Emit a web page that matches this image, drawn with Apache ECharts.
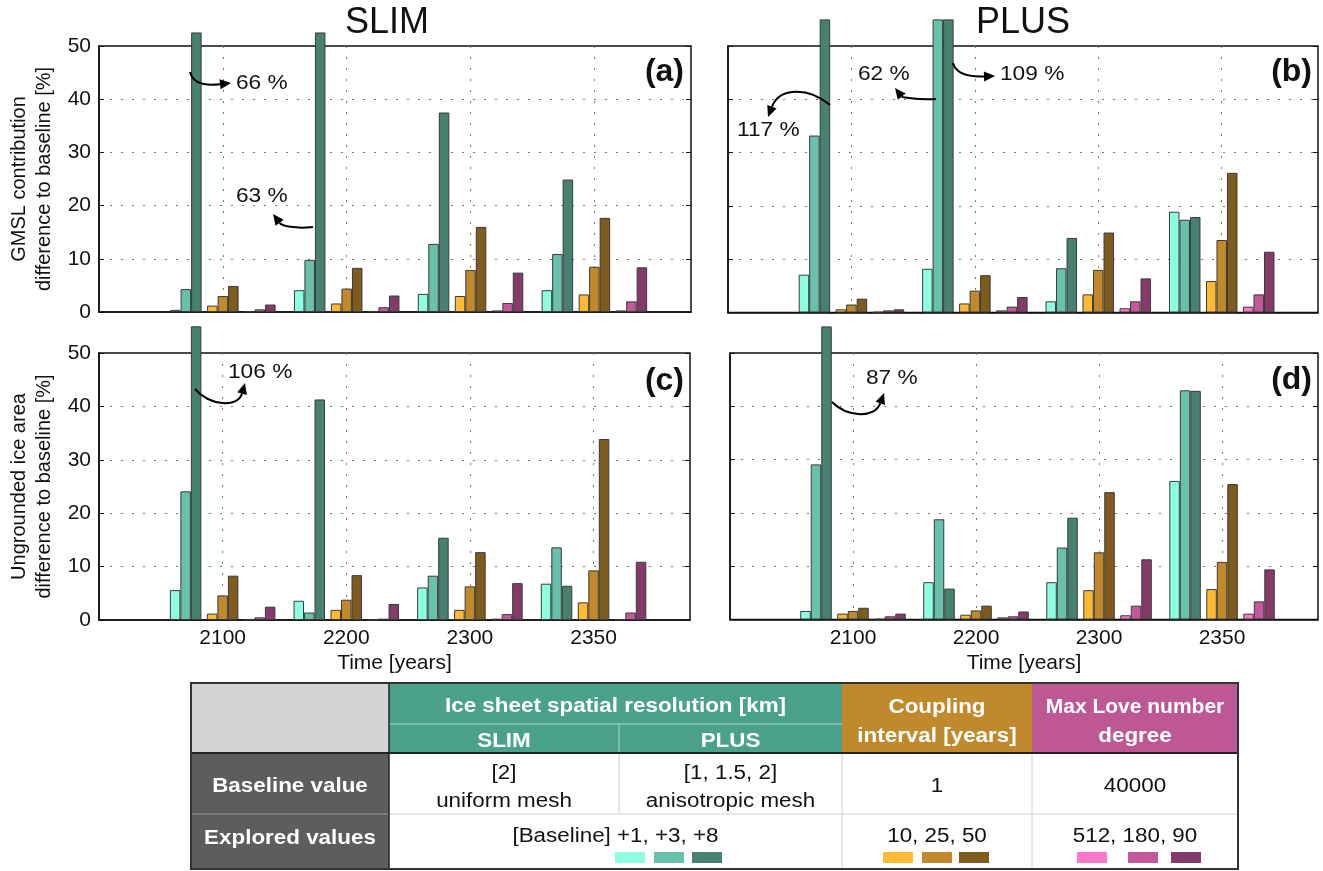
<!DOCTYPE html>
<html>
<head>
<meta charset="utf-8">
<script src="https://cdn.jsdelivr.net/npm/echarts@6/dist/echarts.min.js"></script>
<style>
  html, body { margin: 0; padding: 0; background: #ffffff; }
  #chart { width: 1323px; height: 871px; }
</style>
</head>
<body>
<div id="chart"></div>
<script>
// ---- categories (time slices) ----
const categories = ['2100', '2200', '2300', '2350'];

// ---- (a) GMSL contribution, SLIM: difference to baseline [%] ----
const gmslSlimRes1 = [0.4, 4.1, 3.4, 4.1];
const gmslSlimRes3 = [4.3, 9.8, 12.8, 10.9];
const gmslSlimRes8 = [66, 63, 37.5, 24.9];
const gmslSlimCpl10 = [1.2, 1.6, 3.0, 3.3];
const gmslSlimCpl25 = [3.0, 4.4, 7.9, 8.5];
const gmslSlimCpl50 = [4.9, 8.3, 16.0, 17.7];
const gmslSlimLove512 = [0.1, 0.2, 0.3, 0.3];
const gmslSlimLove180 = [0.5, 0.9, 1.7, 2.0];
const gmslSlimLove90 = [1.4, 3.1, 7.4, 8.4];

// ---- (b) GMSL contribution, PLUS ----
const gmslPlusRes1 = [7.1, 8.2, 2.1, 18.9];
const gmslPlusRes3 = [33.2, 62, 8.3, 17.4];
const gmslPlusRes8 = [117, 109, 14.0, 17.9];
const gmslPlusCpl10 = [0.6, 1.7, 3.4, 5.9];
const gmslPlusCpl25 = [1.5, 4.1, 8.0, 13.6];
const gmslPlusCpl50 = [2.6, 7.0, 15.0, 26.2];
const gmslPlusLove512 = [0.1, 0.4, 0.8, 1.1];
const gmslPlusLove180 = [0.4, 1.1, 2.1, 3.4];
const gmslPlusLove90 = [0.6, 2.9, 6.4, 11.4];

// ---- (c) Ungrounded ice area, SLIM ----
const iceSlimRes1 = [5.6, 3.6, 6.1, 6.8];
const iceSlimRes3 = [24.1, 1.4, 8.3, 13.6];
const iceSlimRes8 = [106, 41.3, 15.4, 6.4];
const iceSlimCpl10 = [1.2, 1.9, 1.9, 3.3];
const iceSlimCpl25 = [4.6, 3.8, 6.3, 9.3];
const iceSlimCpl50 = [8.3, 8.4, 12.7, 33.9];
const iceSlimLove512 = [0.1, 0.05, 0.25, 0.1];
const iceSlimLove180 = [0.5, 0.25, 1.1, 1.4];
const iceSlimLove90 = [2.5, 3.0, 6.9, 10.9];

// ---- (d) Ungrounded ice area, PLUS ----
const icePlusRes1 = [1.6, 7.0, 7.0, 26.0];
const icePlusRes3 = [29.1, 18.8, 13.5, 43.0];
const icePlusRes8 = [87, 5.8, 19.1, 42.9];
const icePlusCpl10 = [1.1, 0.9, 5.5, 5.7];
const icePlusCpl25 = [1.6, 1.7, 12.6, 10.8];
const icePlusCpl50 = [2.2, 2.6, 23.9, 25.4];
const icePlusLove512 = [0.1, 0.4, 0.8, 1.1];
const icePlusLove180 = [0.6, 0.6, 2.6, 3.4];
const icePlusLove90 = [1.1, 1.5, 11.3, 9.4];

// ---- y axis ticks ----
const yTickMin = 0, yTickMax = 50, yTickStep = 10;

// ---- styling ----
const FONT = '"Liberation Sans", Arial, Helvetica, sans-serif';
const barColors = ['#8CFFE2', '#67C1AB', '#468172',
                   '#FFBA33', '#C1892A', '#7F5B1D',
                   '#FF77CB', '#C3599C', '#843A6A'];
const BAR_W = 10.5, GAP_W = 5.5;
const X_MIN = -1, X_MAX = 3.78;

// panel frames in pixels: left, width, y of value 0, y of value 50, visible clip value above the frame
const panels = [
  { left: 99,  width: 592, y0: 312,   y50: 46,  cap: 52.45, showX: false, showYLabels: true,
    yName: 'GMSL contribution\ndifference to baseline [%]',
    data: [gmslSlimRes1, gmslSlimRes3, gmslSlimRes8, gmslSlimCpl10, gmslSlimCpl25, gmslSlimCpl50, gmslSlimLove512, gmslSlimLove180, gmslSlimLove90] },
  { left: 728, width: 590, y0: 312.5, y50: 46,  cap: 54.9, showX: false, showYLabels: false, yName: '',
    data: [gmslPlusRes1, gmslPlusRes3, gmslPlusRes8, gmslPlusCpl10, gmslPlusCpl25, gmslPlusCpl50, gmslPlusLove512, gmslPlusLove180, gmslPlusLove90] },
  { left: 99,  width: 591, y0: 620,   y50: 353, cap: 54.9, showX: true, showYLabels: true,
    yName: 'Ungrounded ice area\ndifference to baseline [%]',
    data: [iceSlimRes1, iceSlimRes3, iceSlimRes8, iceSlimCpl10, iceSlimCpl25, iceSlimCpl50, iceSlimLove512, iceSlimLove180, iceSlimLove90] },
  { left: 730, width: 588, y0: 619.5, y50: 353, cap: 54.9, showX: true, showYLabels: false, yName: '',
    data: [icePlusRes1, icePlusRes3, icePlusRes8, icePlusCpl10, icePlusCpl25, icePlusCpl50, icePlusLove512, icePlusLove180, icePlusLove90] }
];

const grids = [], xAxes = [], yAxes = [], series = [];
const N = panels.length;
const dotted = { color: '#7a7a7a', width: 1, type: [2, 9] };

panels.forEach((p, k) => {
  const pxPerUnit = (p.y0 - p.y50) / yTickMax;
  // frame grid (0..50) with axes, ticks and dotted grid lines
  grids[k] = { left: p.left, width: p.width, top: p.y50, height: p.y0 - p.y50,
               show: true, borderColor: '#111', borderWidth: 1.5, backgroundColor: 'transparent',
               outerBoundsMode: 'none' };
  // bar grid sharing the same bottom, extended upward so tall bars run past the frame
  const capTop = p.y0 - p.cap * pxPerUnit;
  grids[N + k] = { left: p.left, width: p.width, top: capTop, height: p.y0 - capTop,
                   show: false, outerBoundsMode: 'none' };

  xAxes[k] = {
    type: 'value', gridIndex: k, min: X_MIN, max: X_MAX, interval: 1,
    axisLine: { show: true, onZero: false, lineStyle: { color: '#111', width: 1.5 } },
    axisTick: { show: false },
    axisLabel: {
      show: p.showX, margin: 8, color: '#111', fontFamily: FONT, fontSize: 21,
      formatter: v => (Number.isInteger(v) && v >= 0 && v < categories.length) ? categories[v] : ''
    },
    splitLine: { show: true, showMinLine: false, showMaxLine: false, lineStyle: dotted },
    name: p.showX ? 'Time [years]' : '', nameLocation: 'middle', nameGap: 33,
    nameTextStyle: { color: '#111', fontFamily: FONT, fontSize: 21 }
  };
  xAxes[N + k] = { type: 'value', gridIndex: N + k, min: X_MIN, max: X_MAX, show: false };

  yAxes[k] = {
    type: 'value', gridIndex: k, position: 'left', min: yTickMin, max: yTickMax, interval: yTickStep,
    axisLine: { show: true, onZero: false, lineStyle: { color: '#111', width: 1.5 } },
    axisTick: { show: true, inside: true, length: 5, lineStyle: { color: '#111' } },
    axisLabel: { show: p.showYLabels, margin: 8, color: '#111', fontFamily: FONT, fontSize: 21 },
    splitLine: { show: true, showMinLine: false, showMaxLine: false, lineStyle: dotted },
    name: p.yName, nameLocation: 'middle', nameGap: 42,
    nameTextStyle: { color: '#111', fontFamily: FONT, fontSize: 20, lineHeight: 25 }
  };
  yAxes[N + k] = { type: 'value', gridIndex: N + k, min: 0, max: p.cap, show: false };
  yAxes[2 * N + k] = {
    type: 'value', gridIndex: k, position: 'right', min: yTickMin, max: yTickMax, interval: yTickStep,
    axisLine: { show: false, onZero: false }, axisLabel: { show: false }, splitLine: { show: false },
    axisTick: { show: true, inside: true, length: 5, lineStyle: { color: '#111' } }
  };

  p.data.forEach((vals, j) => {
    if (j === 3 || j === 6) {
      // empty spacer between parameter groups
      series.push({ type: 'bar', xAxisIndex: N + k, yAxisIndex: N + k, data: [],
                    barWidth: GAP_W, barGap: '0%', silent: true });
    }
    series.push({
      type: 'bar', xAxisIndex: N + k, yAxisIndex: N + k,
      data: vals.map((v, i) => [i, v]),
      barWidth: BAR_W, barGap: '0%', clip: true, silent: true,
      itemStyle: { color: barColors[j], borderColor: '#3a3a3a', borderWidth: 1 }
    });
  });
});

// ---- annotations ----
function arrow(p0, c1, c2, p1) {
  const ang = Math.atan2(p1[1] - c2[1], p1[0] - c2[0]);
  const L = 11, W = 5;
  const bx = p1[0] - L * Math.cos(ang), by = p1[1] - L * Math.sin(ang);
  const nx = -Math.sin(ang) * W, ny = Math.cos(ang) * W;
  return [
    { type: 'bezierCurve', z: 10, silent: true,
      shape: { x1: p0[0], y1: p0[1], cpx1: c1[0], cpy1: c1[1], cpx2: c2[0], cpy2: c2[1], x2: bx, y2: by },
      style: { stroke: '#000', lineWidth: 2, fill: null } },
    { type: 'polygon', z: 10, silent: true,
      shape: { points: [p1, [bx + nx, by + ny], [bx - nx, by - ny]] },
      style: { fill: '#000' } }
  ];
}
function txt(s, x, y, font, align, fill, sx) {
  return { type: 'text', x: x, y: y, z: 10, silent: true, scaleX: sx || 1,
           style: { text: s, font: font, fill: fill || '#111', align: align || 'center', verticalAlign: 'middle' } };
}
const annFont = '21px ' + FONT;
const graphics = [];
graphics.push(...arrow([190, 72], [193, 84], [205, 86], [231, 83]));
graphics.push(txt(gmslSlimRes8[0] + ' %', 236, 83, annFont, 'left', null, 1.08));
graphics.push(...arrow([313, 227], [295, 229], [282, 226], [273, 214]));
graphics.push(txt(gmslSlimRes8[1] + ' %', 236, 196, annFont, 'left', null, 1.08));
graphics.push(...arrow([830, 105], [810, 88], [780, 86], [768, 117]));
graphics.push(txt(gmslPlusRes8[0] + ' %', 737, 130, annFont, 'left', null, 1.08));
graphics.push(...arrow([936, 99], [915, 100], [902, 97], [895, 88]));
graphics.push(txt(gmslPlusRes3[1] + ' %', 858, 74, annFont, 'left', null, 1.08));
graphics.push(...arrow([953, 63], [956, 74], [968, 77], [995, 76]));
graphics.push(txt(gmslPlusRes8[1] + ' %', 1000, 74, annFont, 'left', null, 1.08));
graphics.push(...arrow([195, 389], [210, 406], [238, 408], [245, 383]));
graphics.push(txt(iceSlimRes8[0] + ' %', 228, 372, annFont, 'left', null, 1.08));
graphics.push(...arrow([832, 402], [848, 418], [875, 418], [884, 393]));
graphics.push(txt(icePlusRes8[0] + ' %', 866, 378, annFont, 'left', null, 1.08));

// panel letters and column titles
const letterFont = 'bold 32px ' + FONT;
graphics.push(txt('(a)', 684, 72, letterFont, 'right'));
graphics.push(txt('(b)', 1312, 72, letterFont, 'right'));
graphics.push(txt('(c)', 684, 381, letterFont, 'right'));
graphics.push(txt('(d)', 1312, 380, letterFont, 'right'));
graphics.push(txt('SLIM', 387, 23, '36px ' + FONT));
graphics.push(txt('PLUS', 1023, 23, '36px ' + FONT));

// ---- parameter table ----
const col = [191, 389, 619, 842, 1032, 1238];
const row = [683, 724, 753, 814, 869];
function rect(x, y, w, h, fill) {
  return { type: 'rect', silent: true, shape: { x: x, y: y, width: w, height: h }, style: { fill: fill } };
}
function line(x1, y1, x2, y2, color, w) {
  return { type: 'line', silent: true, shape: { x1: x1, y1: y1, x2: x2, y2: y2 },
           style: { stroke: color, lineWidth: w } };
}
const tbl = [];
tbl.push(rect(col[0], row[0], col[1] - col[0], row[2] - row[0], '#D4D4D4'));
tbl.push(rect(col[1], row[0], col[3] - col[1], row[2] - row[0], '#4BA28B'));
tbl.push(rect(col[3], row[0], col[4] - col[3], row[2] - row[0], '#C0892B'));
tbl.push(rect(col[4], row[0], col[5] - col[4], row[2] - row[0], '#BE5895'));
tbl.push(rect(col[0], row[2], col[1] - col[0], row[4] - row[2], '#5D5D5D'));
tbl.push(rect(col[1], row[2], col[5] - col[1], row[4] - row[2], '#FFFFFF'));
tbl.push(line(col[1], row[1], col[3], row[1], '#A7D3C6', 1));
tbl.push(line(col[2], row[1], col[2], row[2], '#A7D3C6', 1));
tbl.push(line(col[0], row[3], col[1], row[3], '#9A9A9A', 1));
tbl.push(line(col[1], row[3], col[5], row[3], '#D0D0D0', 1));
tbl.push(line(col[2], row[2], col[2], row[3], '#D0D0D0', 1));
tbl.push(line(col[3], row[2], col[3], row[4], '#D0D0D0', 1));
tbl.push(line(col[4], row[2], col[4], row[4], '#D0D0D0', 1));
tbl.push(line(col[0], row[2], col[5], row[2], '#222', 2));
tbl.push(line(col[1], row[0], col[1], row[4], '#222', 1.5));
tbl.push({ type: 'rect', silent: true, shape: { x: col[0], y: row[0], width: col[5] - col[0], height: row[4] - row[0] },
           style: { fill: null, stroke: '#333', lineWidth: 2 } });

const hFont = 'bold 20px ' + FONT;
const bFont = '20px ' + FONT;
const SX = 1.12;   // table lettering is set slightly wide
tbl.push(txt('Ice sheet spatial resolution [km]', (col[1] + col[3]) / 2, 706, hFont, 'center', '#fff', SX));
tbl.push(txt('SLIM', (col[1] + col[2]) / 2, 741, hFont, 'center', '#fff', SX));
tbl.push(txt('PLUS', (col[2] + col[3]) / 2, 741, hFont, 'center', '#fff', SX));
tbl.push(txt('Coupling', (col[3] + col[4]) / 2, 707, hFont, 'center', '#fff', SX));
tbl.push(txt('interval [years]', (col[3] + col[4]) / 2, 736, hFont, 'center', '#fff', SX));
tbl.push(txt('Max Love number', (col[4] + col[5]) / 2, 707, hFont, 'center', '#fff', 1.05));
tbl.push(txt('degree', (col[4] + col[5]) / 2, 736, hFont, 'center', '#fff', SX));
tbl.push(txt('Baseline value', (col[0] + col[1]) / 2, 786, hFont, 'center', '#fff', SX));
tbl.push(txt('Explored values', (col[0] + col[1]) / 2, 838, hFont, 'center', '#fff', SX));
tbl.push(txt('[2]', (col[1] + col[2]) / 2, 773, bFont, 'center', null, SX));
tbl.push(txt('uniform mesh', (col[1] + col[2]) / 2, 801, bFont, 'center', null, SX));
tbl.push(txt('[1, 1.5, 2]', (col[2] + col[3]) / 2, 773, bFont, 'center', null, SX));
tbl.push(txt('anisotropic mesh', (col[2] + col[3]) / 2, 801, bFont, 'center', null, SX));
tbl.push(txt('1', (col[3] + col[4]) / 2, 786, bFont, 'center', null, SX));
tbl.push(txt('40000', (col[4] + col[5]) / 2, 786, bFont, 'center', null, SX));
tbl.push(txt('[Baseline] +1, +3, +8', (col[1] + col[3]) / 2, 836, bFont, 'center', null, SX));
tbl.push(txt('10, 25, 50', (col[3] + col[4]) / 2, 836, bFont, 'center', null, SX));
tbl.push(txt('512, 180, 90', (col[4] + col[5]) / 2, 836, bFont, 'center', null, SX));
// colour keys under the explored values
const swatchX = [615, 654, 692, 883, 922, 959, 1077, 1128, 1171];
swatchX.forEach((x, j) => tbl.push(rect(x, 852, 30, 11, barColors[j])));
graphics.push({ type: 'group', children: tbl });

const chart = echarts.init(document.getElementById('chart'), null, { renderer: 'canvas' });
chart.setOption({
  animation: false,
  backgroundColor: '#ffffff',
  textStyle: { fontFamily: FONT },
  grid: grids,
  xAxis: xAxes,
  yAxis: yAxes,
  series: series,
  graphic: graphics
});
</script>
</body>
</html>
